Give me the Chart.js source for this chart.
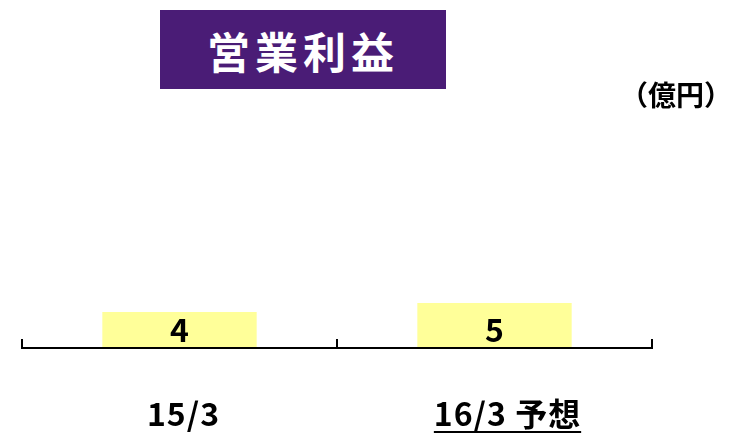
<!DOCTYPE html>
<html>
<head>
<meta charset="utf-8">
<script src="https://cdn.jsdelivr.net/npm/chart.js@4"></script>
<style>
  body { margin: 0; background: #fff; }
  #wrap { position: relative; width: 735px; height: 435px; }
  #title {
    position: absolute; left: 160px; top: 10px; width: 286px; height: 79px;
    background: #4a1c76; color: #fff;
    font: bold 43px "Noto Sans CJK JP", sans-serif;
    display: flex; align-items: center; justify-content: center; letter-spacing: 5px;
  }
  #unit {
    position: absolute; left: 620px; top: 74px;
    font: bold 28px "Noto Sans CJK JP", sans-serif; color: #000;
  }
</style>
</head>
<body>
<div id="wrap">
  <canvas id="c" width="735" height="435"></canvas>
  <div id="title">営業利益</div>
  <div id="unit">（億円）</div>
</div>
<script>
const categories = ["15/3", "16/3 予想"];
const profit = [4, 5];
const underlined = [false, true];

// axis line with upward ticks, value labels, category labels
const decorate = {
    id: "decorate",
    afterDraw(chart) {
        const ctx = chart.ctx;
        const x = chart.scales.x;
        const y = chart.scales.y;
        const base = y.getPixelForValue(0);
        ctx.save();
        ctx.strokeStyle = "#000";
        ctx.lineWidth = 2;
        ctx.beginPath();
        ctx.moveTo(x.left, base);
        ctx.lineTo(x.right, base);
        const step = (x.right - x.left) / categories.length;
        for (let i = 0; i <= categories.length; i++) {
            const px = Math.round(x.left + step * i);
            ctx.moveTo(px, base + 1);
            ctx.lineTo(px, base - 9);
        }
        ctx.stroke();

        ctx.fillStyle = "#000";
        ctx.textAlign = "center";
        ctx.textBaseline = "middle";
        ctx.font = "bold 32px 'Noto Sans CJK JP', sans-serif";
        profit.forEach((v, i) => {
            ctx.fillText(String(v), x.getPixelForValue(i), base - 18);
        });

        ctx.font = "bold 32px 'Noto Sans CJK JP', sans-serif";
        ctx.letterSpacing = "1px";
        categories.forEach((c, i) => {
            const cx = x.getPixelForValue(i) + (underlined[i] ? 13 : 4);
            ctx.fillText(c, cx, base + 66);
            if (underlined[i]) {
                const w = ctx.measureText(c).width;
                ctx.fillRect(cx - w / 2, base + 83, w, 2);
            }
        });
        ctx.restore();
    }
};

new Chart(document.getElementById("c"), {
    type: "bar",
    data: {
        labels: categories,
        datasets: [{
            data: profit,
            backgroundColor: "#ffff99",
            borderWidth: 0,
            categoryPercentage: 1,
            barPercentage: 0.49
        }]
    },
    options: {
        responsive: false,
        animation: false,
        layout: { padding: { left: 22, right: 83, top: 100, bottom: 79 } },
        plugins: { legend: { display: false }, tooltip: { enabled: false } },
        scales: {
            x: {
                grid: { display: false },
                border: { display: false },
                ticks: { display: false }
            },
            y: {
                display: false,
                min: 0,
                max: 27.5
            }
        }
    },
    plugins: [decorate]
});
</script>
</body>
</html>
